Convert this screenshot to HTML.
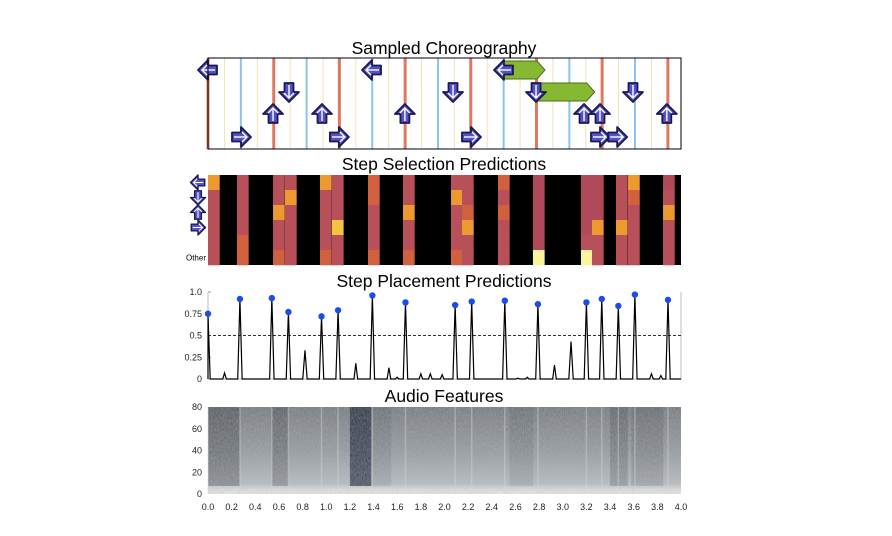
<!DOCTYPE html>
<html><head><meta charset="utf-8">
<style>
body{margin:0;background:#fff;}
svg{display:block;font-family:"Liberation Sans",sans-serif;}
</style></head>
<body>
<svg id="fig" width="892" height="536" viewBox="0 0 892 536">
<defs>
<linearGradient id="specg" x1="0" y1="0" x2="0" y2="1">
<stop offset="0" stop-color="#7a7e82"/><stop offset="0.5" stop-color="#979ca0"/><stop offset="0.88" stop-color="#b8bcc0"/><stop offset="0.95" stop-color="#dcdcdc"/><stop offset="1" stop-color="#e4e4e4"/>
</linearGradient>
<filter id="noise" x="0" y="0" width="100%" height="100%">
<feTurbulence type="fractalNoise" baseFrequency="0.9 0.35" numOctaves="2" seed="4"/>
<feColorMatrix type="matrix" values="0 0 0 0 0.5  0 0 0 0 0.5  0 0 0 0 0.52  1.2 0 0 0 -0.35"/>
</filter>
</defs>
<text x="444" y="54" font-size="17.5" text-anchor="middle">Sampled Choreography</text>
<text x="444" y="170" font-size="17.5" text-anchor="middle">Step Selection Predictions</text>
<text x="444" y="287" font-size="17.5" text-anchor="middle">Step Placement Predictions</text>
<text x="444" y="402" font-size="17.5" text-anchor="middle">Audio Features</text>
<g id="g-top"></g>
<g id="g-sel"></g>
<g id="g-plc"></g>
<g id="g-aud"></g>
</svg>
<script>
// ---- data ----
const beatTimes = [0, 0.556, 1.111, 1.667, 2.222, 2.778, 3.333, 3.889];
const arrowTimes = [0.0, 1.387, 2.503, 0.685, 2.072, 2.774, 3.594, 0.55, 0.964, 1.665, 3.18, 3.315, 3.88, 0.279, 1.107, 2.224, 3.315, 3.46];
const arrowLanes = [0, 0, 0, 1, 1, 1, 1, 2, 2, 2, 2, 2, 2, 3, 3, 3, 3, 3];
const holdStart = [2.503, 2.774];
const holdEnd = [2.85, 3.27];
const holdLanes = [0, 1];
const selTimes = [0.0, 0.245, 0.55, 0.651, 0.947, 1.048, 1.353, 1.649, 2.055, 2.148, 2.452, 2.748, 3.154, 3.247, 3.45, 3.552, 3.848];
const selLevels = [
 [3,1,1,1,1,1],[1,1,1,1,2,2],[1,1,3,1,1,2],[1,3,1,1,1,1],
 [3,1,1,1,1,2],[1,1,1,4,1,1],[2,2,1,1,1,2],[1,1,3,1,1,2],
 [1,3,1,1,1,2],[1,1,2,3,1,1],[2,1,2,1,1,1],[0,0,0,0,0,5],
 [0,0,0,0,1,5],[0,0,0,3,1,1],[1,1,1,3,1,1],[3,2,1,1,1,1],[0,1,3,1,1,1]
];
const peakTimes = [0.0,0.14,0.27,0.54,0.68,0.82,0.96,1.1,1.25,1.39,1.53,1.6,1.67,1.8,1.88,1.98,2.09,2.23,2.51,2.62,2.7,2.79,2.93,3.07,3.2,3.33,3.47,3.61,3.75,3.83,3.89];
const peakValues = [0.75,0.07,0.92,0.93,0.77,0.33,0.72,0.79,0.18,0.96,0.13,0.02,0.88,0.06,0.06,0.05,0.85,0.89,0.90,0.01,0.02,0.86,0.16,0.43,0.88,0.92,0.84,0.97,0.06,0.04,0.91];
const yTicksPlc = [0, 0.25, 0.5, 0.75, 1.0];
const yTickLabelsPlc = ["0","0.25","0.5","0.75","1.0"];
const xTicks = [0,0.2,0.4,0.6,0.8,1.0,1.2,1.4,1.6,1.8,2.0,2.2,2.4,2.6,2.8,3.0,3.2,3.4,3.6,3.8,4.0];
const yTicksAud = [0,20,40,60,80];
const darkBandStart = [0.0, 0.54, 1.2, 1.38, 2.55, 3.4, 3.58];
const darkBandEnd = [0.27, 0.68, 1.38, 1.55, 2.75, 3.55, 3.85];
const darkBandShade = [0.3, 0.25, 0.6, 0.1, 0.1, 0.2, 0.15];

// ---- helpers ----
const NS = "http://www.w3.org/2000/svg";
const X0 = 208, X1 = 681;
const xs = t => X0 + t / 4 * (X1 - X0);
function mk(tag, attrs, parent) {
  const e = document.createElementNS(NS, tag);
  for (const k in attrs) e.setAttribute(k, attrs[k]);
  parent.appendChild(e);
  return e;
}
const gTop = document.getElementById('g-top');
const gSel = document.getElementById('g-sel');
const gPlc = document.getElementById('g-plc');
const gAud = document.getElementById('g-aud');

// ---- top choreography panel ----
const TY0 = 58, TY1 = 149;
const laneY = [70, 92, 114, 137];
const bg = mk('rect', {x:X0, y:TY0, width:X1-X0, height:TY1-TY0, fill:'#fff'}, gTop);


const beatW = beatTimes[1] - beatTimes[0];
for (let i = 0; i < 8; i++) {
  for (let q = 1; q < 4; q++) {
    const t = beatTimes[i] + q * beatW / 4;
    if (t > 4) continue;
    const col = q === 2 ? '#8cc4ec' : '#f3e2b0';
    const ln = mk('line', {x1:xs(t), x2:xs(t), y1:TY0, y2:TY1, stroke:col, 'stroke-width': q===2?2:1}, gTop);
    
    
  }
}
beatTimes.forEach(t => {
  const ln = mk('line', {x1:xs(t), x2:xs(t), y1:TY0, y2:TY1, stroke:'#e07860', 'stroke-width':3}, gTop);
  
  
});
holdStart.forEach((s, i) => {
  const x1 = xs(s), x2 = xs(holdEnd[i]), y = laneY[holdLanes[i]];
  const p = mk('polygon', {points:`${x1},${y-9} ${x2-8},${y-9} ${x2},${y} ${x2-8},${y+9} ${x1},${y+9}`, fill:'#86b832', stroke:'#4d6d1a', 'stroke-width':1}, gTop);
  
  
});
const rot = [-90, 180, 0, 90];
function arrow(parent, x, y, lane, s) {
  const g = mk('g', {transform:`translate(${x},${y}) rotate(${rot[lane]}) scale(${s})`}, parent);
  mk('polygon', {points:'0,-10 10,0 4.5,0 4.5,9 -4.5,9 -4.5,0 -10,0', fill:'#5452c8', stroke:'#1c1850', 'stroke-width':1.8, 'stroke-linejoin':'round'}, g);
  mk('polyline', {points:'-5,-1 0,-6 5,-1', fill:'none', stroke:'#fff', 'stroke-width':1.4}, g);
  mk('line', {x1:0, y1:-5, x2:0, y2:7, stroke:'#fff', 'stroke-width':1.4}, g);
  return g;
}
arrowTimes.forEach((t, i) => {
  const g = arrow(gTop, xs(t), laneY[arrowLanes[i]], arrowLanes[i], 1);
  
  
});
const frame = mk('rect', {x:X0, y:TY0, width:X1-X0, height:TY1-TY0, fill:'none', stroke:'#000', 'stroke-width':1}, gTop);



// ---- step selection heatmap ----
const SY0 = 175, SY1 = 265, rowH = (SY1 - SY0) / 6;
const levelColors = ['#b04a58', '#b8505a', '#d0603e', '#ec9a30', '#f2c440', '#fbf3a0'];
const hb = mk('rect', {x:X0, y:SY0, width:X1-X0, height:SY1-SY0, fill:'#000'}, gSel);


const colW = 11.7;
selTimes.forEach((t, c) => {
  selLevels[c].forEach((lv, r) => {
    const cell = mk('rect', {x:xs(t), y:SY0 + r*rowH, width:colW, height:rowH+0.3, fill:levelColors[lv]}, gSel);
    
    
  });
});
for (let r = 0; r < 4; r++) {
  const g = arrow(gSel, 198, SY0 + r*rowH + rowH/2, r, 0.75);
  
  
}
const oth = mk('text', {x:206, y:SY0 + 5.5*rowH + 3, 'font-size':8, 'text-anchor':'end'}, gSel);
oth.textContent = 'Other';



// ---- step placement ----
const PY0 = 292, PY1 = 379;
const yp = v => PY1 - v * (PY1 - PY0);
yTicksPlc.forEach((v, i) => {
  const tx = mk('text', {x:202, y:yp(v)+3, 'font-size':9, 'text-anchor':'end', fill:'#222'}, gPlc);
  tx.textContent = yTickLabelsPlc[i];
  
  
  const tk = mk('line', {x1:X0, x2:X0+3, y1:yp(v), y2:yp(v), stroke:'#999'}, gPlc);
  
  
});
const ax = mk('path', {d:`M${X0},${PY0} V${PY1} H${X1} V${PY0}`, fill:'none', stroke:'#bbb', 'stroke-width':1}, gPlc);


const thr = mk('line', {x1:X0, x2:X1, y1:yp(0.5), y2:yp(0.5), stroke:'#333', 'stroke-dasharray':'3,2', 'stroke-width':1}, gPlc);


let d = `M${X0},${yp(0)}`;
peakTimes.forEach((t, i) => {
  const x = xs(t), hw = peakValues[i] > 0.3 ? 2.2 : 1.8;
  const xl = Math.max(X0, x - hw);
  d += ` L${xl},${yp(0)} L${x},${yp(peakValues[i])} L${x + hw},${yp(0)}`;
});
d += ` L${X1},${yp(0)}`;
const pl = mk('path', {d:d, fill:'none', stroke:'#000', 'stroke-width':1.2}, gPlc);


peakTimes.forEach((t, i) => {
  if (peakValues[i] < 0.5) return;
  const c = mk('circle', {cx:xs(t), cy:yp(peakValues[i]), r:3.2, fill:'#1a4ee8'}, gPlc);
  
  
});

// ---- audio features ----
const AY0 = 407, AY1 = 494;
const ya = v => AY1 - v / 80 * (AY1 - AY0);
const sp = mk('rect', {x:X0, y:AY0, width:X1-X0, height:AY1-AY0, fill:'url(#specg)'}, gAud);


darkBandStart.forEach((s, i) => {
  const r = mk('rect', {x:xs(s), y:AY0, width:xs(darkBandEnd[i])-xs(s), height:AY1-AY0-8, fill: i===2 ? '#101830' : '#202428', opacity:darkBandShade[i]}, gAud);
  
  
});
peakTimes.forEach((t, i) => {
  if (peakValues[i] < 0.5) return;
  const l = mk('line', {x1:xs(t), x2:xs(t), y1:AY0, y2:AY1, stroke:'#d8dcdf', 'stroke-width':1.5, opacity:0.4}, gAud);
  
  
});
const nz = mk('rect', {x:X0, y:AY0, width:X1-X0, height:AY1-AY0, filter:'url(#noise)', opacity:0.55}, gAud);


yTicksAud.forEach(v => {
  const tx = mk('text', {x:202, y:ya(v)+3, 'font-size':9, 'text-anchor':'end', fill:'#222'}, gAud);
  tx.textContent = String(v);
  
  
});
xTicks.forEach(v => {
  const tx = mk('text', {x:xs(v), y:510, 'font-size':9, 'text-anchor':'middle', fill:'#222'}, gAud);
  tx.textContent = v.toFixed(1);
  
  
});
</script>
</body></html>
